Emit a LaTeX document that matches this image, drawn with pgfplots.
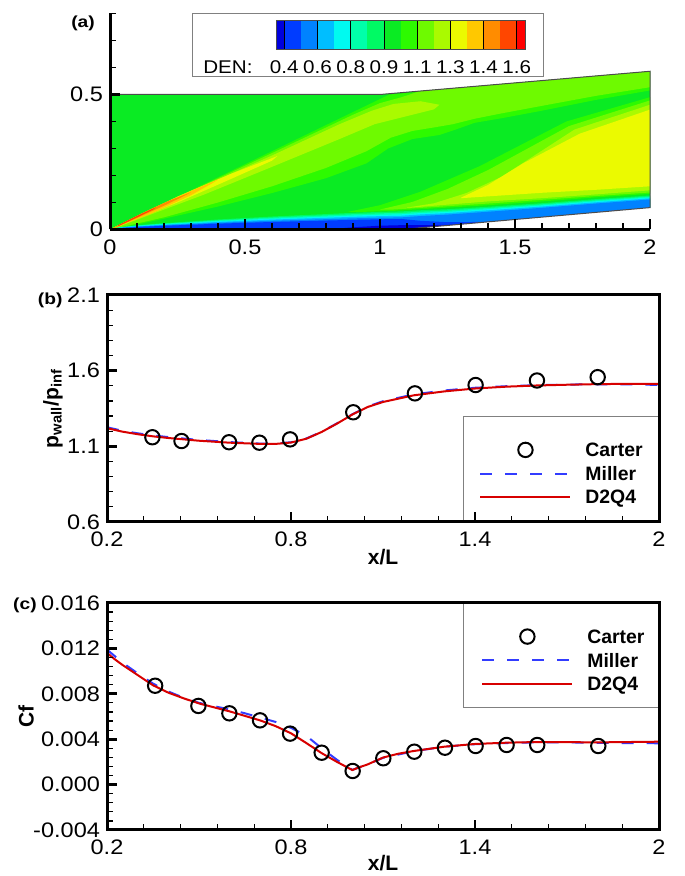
\documentclass[border=0pt]{standalone}
\usepackage{pgfplots}
\usepackage{pgfplotstable}
\pgfplotsset{compat=1.18}
\usepackage{fontspec}
\setmainfont{Liberation Sans}
\newfontfamily\tickfont[FakeStretch=1.12]{Liberation Sans}
\newfontfamily\panelfont[FakeStretch=1.2]{Liberation Sans}

\definecolor{c0}{RGB}{0,0,220}
\definecolor{c1}{RGB}{0,60,255}
\definecolor{c2}{RGB}{0,130,255}
\definecolor{c3}{RGB}{0,190,255}
\definecolor{c4}{RGB}{0,250,240}
\definecolor{c5}{RGB}{0,255,170}
\definecolor{c6}{RGB}{0,250,100}
\definecolor{c7}{RGB}{10,235,35}
\definecolor{c8}{RGB}{45,250,0}
\definecolor{c9}{RGB}{110,250,0}
\definecolor{c10}{RGB}{170,250,0}
\definecolor{c11}{RGB}{235,250,0}
\definecolor{c12}{RGB}{255,200,0}
\definecolor{c13}{RGB}{255,140,0}
\definecolor{c14}{RGB}{255,70,0}
\definecolor{c15}{RGB}{255,0,0}
\definecolor{redline}{RGB}{215,0,0}
\definecolor{blueline}{RGB}{50,60,255}

% boundary-layer contour levels (x, top of each level)
\pgfplotstableread{
X     L6     L5     L4     L3     L2     L1     L0
0.00  0      0      0      0      0      0      0
0.02  0.0056 0.0052 0.0047 0.0043 0.0038 0.0032 0
0.05  0.010  0.0092 0.0084 0.0076 0.0067 0.0058 0
0.10  0.0157 0.0144 0.0132 0.0119 0.0105 0.0091 0
0.20  0.0235 0.0216 0.0197 0.0179 0.0157 0.0136 0
0.30  0.030  0.0276 0.0252 0.0228 0.0201 0.0174 0
0.40  0.037  0.0340 0.0311 0.0281 0.0248 0.0215 0
0.50  0.0425 0.0391 0.0357 0.0323 0.0285 0.0247 0
0.60  0.048  0.0442 0.0403 0.0365 0.0322 0.0278 0
0.70  0.0526 0.0484 0.0442 0.0400 0.0352 0.0305 0
0.80  0.057  0.0524 0.0479 0.0433 0.0382 0.0331 0
0.90  0.0616 0.0567 0.0517 0.0468 0.0413 0.0357 0.008
1.00  0.065  0.0598 0.0546 0.0494 0.0436 0.0377 0.014
1.08  0.067  0.0616 0.0563 0.0509 0.0449 0.0389 0.016
1.15  0.0712 0.0660 0.0608 0.0556 0.0498 0.0322 0.016
1.25  0.075  0.0702 0.0654 0.0606 0.0552 0.027  0.017
1.40  0.0842 0.0797 0.0752 0.0708 0.0657 0.0282 0.0282
1.60  0.0973 0.0932 0.0891 0.0849 0.0803 0.0458 0.0458
1.80  0.1124 0.1085 0.1046 0.1006 0.0962 0.0634 0.0634
2.00  0.126  0.1224 0.1188 0.1152 0.1112 0.081  0.081
}\bltab

\pgfplotsset{
  panel/.style={
    scale only axis, axis on top, clip=false,
    tick align=inside, tick pos=left,
    major tick length=5pt, minor tick length=3.2pt,
    major tick style={line width=1.4pt, black},
    minor tick style={line width=0.6pt, black},
    axis line style={line width=1.5pt},
    ticklabel style={font=\tickfont\fontsize{10.5}{12}\selectfont},
    xticklabel style={yshift=-1.3pt},
    /pgf/number format/assume math mode=true,
    label style={font=\bfseries\fontsize{10.5}{12}\selectfont},
  },
  carter/.style={only marks, mark=o, mark size=3.6pt, mark options={line width=1pt, black},
    legend image code/.code={\path[draw=none] (0pt,0pt) -- (45pt,0pt); \draw[##1] plot coordinates {(22.5pt,0pt)};}},
  miller/.style={blueline, line width=1pt, dash pattern=on 6pt off 6.5pt, no marks,
    legend image code/.code={\draw[##1] (0pt,0pt) -- (45pt,0pt);}},
  d2q4/.style={redline, line width=1pt, no marks,
    legend image code/.code={\draw[##1] (0pt,0pt) -- (45pt,0pt);}},
  leg/.style={legend style={draw=none, fill=none, at={#1}, anchor=west, inner sep=0pt,
    row sep=4.7pt, column sep=7pt, legend cell align=left,
    nodes={inner sep=0pt, text height=7pt, text depth=0pt, font=\bfseries\fontsize{9.7}{11}\selectfont}}},
}

\begin{document}
\begin{tikzpicture}
\useasboundingbox (0,0) rectangle (342pt,438pt);

%================ (a) contour ================
\begin{axis}[
  at={(55pt,323.25pt)}, anchor=south west, scale only axis,
  width=270pt, height=108pt,
  xmin=0, xmax=2, ymin=0, ymax=0.8,
  axis lines=left, axis line style={line width=1.5pt,-},
  axis on top, clip=false, tick align=inside,
  xtick={0,0.5,1,1.5,2}, minor x tick num=4,
  ytick={0,0.5}, minor ytick={0.1,0.2,0.3,0.4,0.6,0.7,0.8},
  major tick length=5pt, minor tick length=3.2pt,
  major tick style={line width=1.4pt, black},
  minor tick style={line width=0.6pt, black},
  ticklabel style={font=\tickfont\fontsize{10.5}{12}\selectfont},
  xticklabel style={yshift=-1.5pt},
  /pgf/number format/assume math mode=true,
]
% free stream
\addplot[fill=c7, draw=none] coordinates {(0,0) (1.08,0) (2,0.081) (2,0.586) (1,0.5) (0,0.5)} --cycle;
% leading-edge shock region
\addplot[fill=c8, draw=none] coordinates {(0,0) (0.3,0.145) (0.6,0.29) (0.9,0.435) (1.035,0.5) (1.3,0.5258) (1.6,0.5516) (2,0.586) (2,0.515) (1.8,0.48) (1.6,0.44) (1.45,0.412) (1.35,0.395) (1.28,0.37) (1.22,0.35) (1.12,0.335) (1.03,0.30) (0.95,0.245) (0.8,0.19) (0.6,0.135) (0.4,0.085) (0.2,0.04) (0.05,0.008)} --cycle;
\addplot[fill=c9, draw=none] coordinates {(0.02,0.009) (0.3,0.143) (0.6,0.283) (0.9,0.425) (1.0,0.468) (1.08,0.49) (1.15,0.5129) (1.3,0.5258) (1.6,0.5516) (2,0.586) (2,0.527) (1.8,0.495) (1.6,0.458) (1.45,0.43) (1.35,0.41) (1.27,0.39) (1.2,0.378) (1.12,0.365) (1.04,0.34) (0.95,0.29) (0.8,0.228) (0.6,0.16) (0.4,0.1) (0.2,0.045) (0.02,0.004)} --cycle;
\addplot[fill=c10, draw=none] coordinates {(0.01,0.005) (0.3,0.14) (0.6,0.274) (0.85,0.39) (0.97,0.44) (1.05,0.465) (1.15,0.475) (1.22,0.462) (1.2,0.445) (1.1,0.42) (0.98,0.39) (0.85,0.335) (0.6,0.232) (0.35,0.13) (0.15,0.055) (0.01,0.002)} --cycle;
\addplot[fill=c11, draw=none] coordinates {(0.02,0.010) (0.25,0.122) (0.45,0.207) (0.62,0.272) (0.60,0.255) (0.45,0.188) (0.25,0.1) (0.02,0.007)} --cycle;
\addplot[fill=c12, draw=none] coordinates {(0.01,0.005) (0.15,0.075) (0.3,0.143) (0.4,0.185) (0.38,0.172) (0.3,0.127) (0.15,0.058) (0.01,0.003)} --cycle;
\addplot[fill=c13, draw=none] coordinates {(0.01,0.005) (0.12,0.061) (0.22,0.107) (0.30,0.138) (0.28,0.127) (0.2,0.088) (0.1,0.043) (0.01,0.003)} --cycle;
\addplot[fill=c14, draw=none] coordinates {(0.03,0.016) (0.1,0.05) (0.17,0.082) (0.16,0.074) (0.09,0.040) (0.03,0.012)} --cycle;
% ramp compression
\addplot[fill=c8, draw=none] coordinates {(0.88,0.065) (1.0,0.09) (1.15,0.14) (1.37,0.235) (1.69,0.40) (2,0.49) (2,0.132) (1.8,0.119) (1.6,0.104) (1.4,0.09) (1.2,0.078) (1.05,0.069) (0.9,0.064)} --cycle;
\addplot[fill=c9, draw=none] coordinates {(1.0,0.074) (1.12,0.102) (1.25,0.15) (1.4,0.22) (1.7,0.383) (2,0.478) (2,0.137) (1.8,0.124) (1.6,0.11) (1.4,0.096) (1.2,0.083) (1.05,0.074)} --cycle;
\addplot[fill=c10, draw=none] coordinates {(1.1,0.081) (1.2,0.097) (1.32,0.135) (1.45,0.195) (1.72,0.37) (2,0.462) (2,0.145) (1.8,0.13) (1.6,0.116) (1.4,0.104) (1.2,0.088) (1.1,0.08)} --cycle;
\addplot[fill=c11, draw=none] coordinates {(1.3,0.118) (1.4,0.165) (1.53,0.245) (1.74,0.355) (2,0.444) (2,0.16) (1.8,0.147) (1.6,0.136) (1.45,0.126) (1.3,0.116)} --cycle;
% boundary layer
\addplot[fill=c6, draw=none] table[x=X, y=L6] {\bltab} \closedcycle;
\addplot[fill=c5, draw=none] table[x=X, y=L5] {\bltab} \closedcycle;
\addplot[fill=c4, draw=none] table[x=X, y=L4] {\bltab} \closedcycle;
\addplot[fill=c3, draw=none] table[x=X, y=L3] {\bltab} \closedcycle;
\addplot[fill=c2, draw=none] table[x=X, y=L2] {\bltab} \closedcycle;
\addplot[fill=c1, draw=none] table[x=X, y=L1] {\bltab} \closedcycle;
\addplot[fill=c0, draw=none] table[x=X, y=L0] {\bltab} \closedcycle;
% outside the ramp
\addplot[fill=white, draw=none] coordinates {(1.08,0) (2,0.081) (2.01,0.081) (2.01,0) } --cycle;
% domain outline
\addplot[gray!60!black, line width=0.5pt] coordinates {(0,0.5) (1,0.5) (2,0.586) (2,0.081) (1.08,0)};
\node[font=\panelfont\bfseries\fontsize{8}{9}\selectfont] at (axis description cs:-0.05,0.956) {(a)};
\end{axis}

%================ colour bar ================
\begin{axis}[
  at={(96pt,399.5pt)}, anchor=south west, scale only axis,
  width=175.5pt, height=31.5pt,
  xmin=-5.06, xmax=16.08, ymin=-0.966, ymax=1.207, clip=false,
  axis line style={gray, line width=0.5pt}, ytick=\empty,
  xtick={0.5,2.5,4.5,6.5,8.5,10.5,12.5,14.5},
  xticklabels={0.4,0.6,0.8,0.9,1.1,1.3,1.4,1.6},
  extra x ticks={-2.9}, extra x tick labels={DEN:},
  major tick length=0pt, tick style={draw=none},
  xtick pos=bottom,
  ticklabel style={font=\tickfont\fontsize{9.2}{11}\selectfont, anchor=base, yshift=1.8pt},
  /pgf/number format/assume math mode=true,
]
\addplot[fill=c0, draw=none] coordinates {(0,0) (0.5,0) (0.5,1) (0,1)} --cycle;
\addplot[fill=c1, draw=none] coordinates {(0.5,0) (1.5,0) (1.5,1) (0.5,1)} --cycle;
\addplot[fill=c2, draw=none] coordinates {(1.5,0) (2.5,0) (2.5,1) (1.5,1)} --cycle;
\addplot[fill=c3, draw=none] coordinates {(2.5,0) (3.5,0) (3.5,1) (2.5,1)} --cycle;
\addplot[fill=c4, draw=none] coordinates {(3.5,0) (4.5,0) (4.5,1) (3.5,1)} --cycle;
\addplot[fill=c5, draw=none] coordinates {(4.5,0) (5.5,0) (5.5,1) (4.5,1)} --cycle;
\addplot[fill=c6, draw=none] coordinates {(5.5,0) (6.5,0) (6.5,1) (5.5,1)} --cycle;
\addplot[fill=c7, draw=none] coordinates {(6.5,0) (7.5,0) (7.5,1) (6.5,1)} --cycle;
\addplot[fill=c8, draw=none] coordinates {(7.5,0) (8.5,0) (8.5,1) (7.5,1)} --cycle;
\addplot[fill=c9, draw=none] coordinates {(8.5,0) (9.5,0) (9.5,1) (8.5,1)} --cycle;
\addplot[fill=c10, draw=none] coordinates {(9.5,0) (10.5,0) (10.5,1) (9.5,1)} --cycle;
\addplot[fill=c11, draw=none] coordinates {(10.5,0) (11.5,0) (11.5,1) (10.5,1)} --cycle;
\addplot[fill=c12, draw=none] coordinates {(11.5,0) (12.5,0) (12.5,1) (11.5,1)} --cycle;
\addplot[fill=c13, draw=none] coordinates {(12.5,0) (13.5,0) (13.5,1) (12.5,1)} --cycle;
\addplot[fill=c14, draw=none] coordinates {(13.5,0) (14.5,0) (14.5,1) (13.5,1)} --cycle;
\addplot[fill=c15, draw=none] coordinates {(14.5,0) (15,0) (15,1) (14.5,1)} --cycle;
\addplot[black, line width=0.4pt] coordinates {(0.5,0) (0.5,1)};
\addplot[black, line width=0.4pt] coordinates {(2.5,0) (2.5,1)};
\addplot[black, line width=0.4pt] coordinates {(4.5,0) (4.5,1)};
\addplot[black, line width=0.4pt] coordinates {(6.5,0) (6.5,1)};
\addplot[black, line width=0.4pt] coordinates {(8.5,0) (8.5,1)};
\addplot[black, line width=0.4pt] coordinates {(10.5,0) (10.5,1)};
\addplot[black, line width=0.4pt] coordinates {(12.5,0) (12.5,1)};
\addplot[black, line width=0.4pt] coordinates {(14.5,0) (14.5,1)};
\addplot[gray!60!black, line width=0.4pt] coordinates {(0,0) (15,0) (15,1) (0,1)} --cycle;
\end{axis}

%================ (b) wall pressure ================
\begin{axis}[panel,
  at={(53.5pt,177pt)}, anchor=south west,
  width=276pt, height=113.5pt,
  xmin=0.2, xmax=2, ymin=0.6, ymax=2.1,
  xtick={0.2,0.8,1.4,2}, ytick={0.6,1.1,1.6,2.1}, minor tick num=4,
  xlabel={x/L}, ylabel={p\textsubscript{wall}/p\textsubscript{inf}},
  xlabel style={at={(axis description cs:0.5,-0.154)}, anchor=center},
  ylabel style={at={(axis description cs:-0.098,0.5)}, anchor=center},
  leg={(axis description cs:0.674,0.2145)},
]
\addplot[carter] coordinates {(0.348,1.160) (0.443,1.135) (0.598,1.127) (0.697,1.124) (0.797,1.146) (1.003,1.325) (1.204,1.450) (1.402,1.505) (1.602,1.535) (1.800,1.557)};
\addlegendentry{Carter}
\addplot[miller] coordinates {(0.2,1.226) (0.25,1.203) (0.3,1.186) (0.35,1.172) (0.4,1.161) (0.5,1.142) (0.6,1.128) (0.7,1.118) (0.75,1.118) (0.8,1.127) (0.85,1.152) (0.9,1.196) (0.95,1.252) (1.0,1.312) (1.05,1.363) (1.1,1.398) (1.2,1.443) (1.3,1.469) (1.4,1.487) (1.5,1.497) (1.6,1.504) (1.7,1.508) (1.8,1.510) (1.9,1.509) (2.0,1.506)};
\addlegendentry{Miller}
\addplot[d2q4] coordinates {(0.2,1.220) (0.25,1.197) (0.3,1.180) (0.35,1.166) (0.4,1.155) (0.5,1.137) (0.6,1.124) (0.7,1.116) (0.75,1.116) (0.8,1.125) (0.85,1.150) (0.9,1.195) (0.95,1.250) (1.0,1.310) (1.05,1.360) (1.1,1.393) (1.2,1.437) (1.3,1.463) (1.4,1.482) (1.5,1.494) (1.6,1.502) (1.7,1.507) (1.8,1.511) (1.9,1.513) (2.0,1.513)};
\addlegendentry{D2Q4}
\draw[gray, line width=0.5pt] (axis description cs:0.6467,0) -- (axis description cs:0.6467,0.4639) -- (axis description cs:1,0.4639);
\node[font=\panelfont\bfseries\fontsize{8}{9}\selectfont] at (axis description cs:-0.103,0.978) {(b)};
\end{axis}

%================ (c) skin friction ================
\begin{axis}[panel,
  at={(53.5pt,23pt)}, anchor=south west,
  width=276pt, height=113.5pt,
  xmin=0.2, xmax=2, ymin=-0.004, ymax=0.016,
  xtick={0.2,0.8,1.4,2}, ytick={-0.004,0,0.004,0.008,0.012,0.016}, minor tick num=4,
  scaled y ticks=false,
  yticklabel style={/pgf/number format/.cd, fixed, fixed zerofill, precision=3},
  xlabel={x/L}, ylabel={Cf},
  xlabel style={at={(axis description cs:0.5,-0.145)}, anchor=center},
  ylabel style={at={(axis description cs:-0.1467,0.5)}, anchor=center},
  leg={(axis description cs:0.6775,0.749)},
]
\addplot[carter] coordinates {(0.357,0.00871) (0.498,0.00693) (0.599,0.00628) (0.699,0.00566) (0.797,0.00449) (0.900,0.00281) (1.001,0.00120) (1.101,0.00232) (1.202,0.00290) (1.302,0.00325) (1.402,0.00340) (1.503,0.00349) (1.603,0.00349) (1.802,0.00340)};
\addlegendentry{Carter}
\addplot[miller] coordinates {(0.2,0.01190) (0.25,0.01075) (0.3,0.00980) (0.35,0.00890) (0.4,0.00820) (0.45,0.00765) (0.5,0.00720) (0.55,0.00690) (0.6,0.00662) (0.65,0.00628) (0.7,0.00590) (0.75,0.00552) (0.8,0.00500) (0.85,0.00430) (0.9,0.00320) (0.95,0.00218) (1.0,0.00130) (1.05,0.00178) (1.1,0.00236) (1.2,0.00294) (1.3,0.00334) (1.4,0.00356) (1.5,0.00366) (1.6,0.00372) (1.7,0.00372) (1.8,0.00368) (1.9,0.00366) (2.0,0.00364)};
\addlegendentry{Miller}
\addplot[d2q4] coordinates {(0.2,0.01160) (0.225,0.01105) (0.25,0.01055) (0.3,0.00965) (0.35,0.00875) (0.4,0.00810) (0.45,0.00760) (0.5,0.00715) (0.55,0.00680) (0.6,0.00645) (0.65,0.00605) (0.7,0.00565) (0.75,0.00515) (0.8,0.00452) (0.85,0.00366) (0.9,0.00277) (0.95,0.00200) (1.0,0.00128) (1.02,0.00150) (1.05,0.00178) (1.1,0.00238) (1.15,0.00272) (1.2,0.00296) (1.3,0.00334) (1.4,0.00358) (1.5,0.00369) (1.6,0.00375) (1.7,0.00374) (1.8,0.00372) (1.9,0.00375) (2.0,0.00378)};
\addlegendentry{D2Q4}
\draw[gray, line width=0.5pt] (axis description cs:0.6467,1) -- (axis description cs:0.6467,0.5388) -- (axis description cs:1,0.5388);
\node[font=\panelfont\bfseries\fontsize{8}{9}\selectfont] at (axis description cs:-0.1486,0.991) {(c)};
\end{axis}
\end{tikzpicture}
\end{document}
